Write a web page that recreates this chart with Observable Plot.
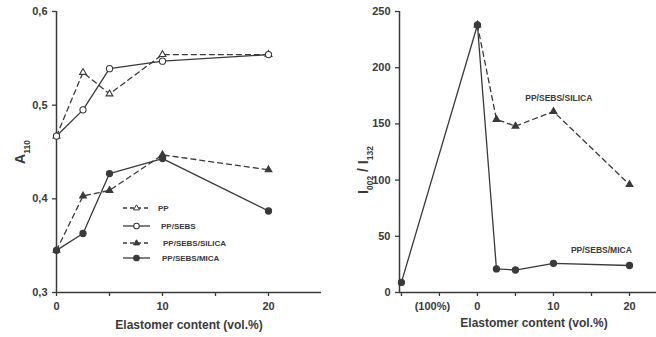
<!DOCTYPE html>
<html>
<head>
<meta charset="utf-8">
<script src="https://cdn.jsdelivr.net/npm/d3@7"></script>
<script src="https://cdn.jsdelivr.net/npm/@observablehq/plot@0.6"></script>
<style>
  html, body { margin: 0; padding: 0; background: #fff; }
  #wrap { display: flex; width: 656px; height: 337px; overflow: hidden; background: #fff; }
  svg text { font-family: "Liberation Sans", Arial, sans-serif; }
</style>
</head>
<body>
<div id="wrap"></div>
<script>
// ---------- data ----------
const seriesNames = ["PP", "PP/SEBS", "PP/SEBS/SILICA", "PP/SEBS/MICA"];
const xLeft = [0, 2.5, 5, 10, 20];
const a110PP = [0.467, 0.535, 0.512, 0.554, 0.554];
const a110PPSEBS = [0.467, 0.495, 0.539, 0.547, 0.554];
const a110Silica = [0.345, 0.403, 0.409, 0.447, 0.431];
const a110Mica = [0.345, 0.363, 0.427, 0.443, 0.387];
const yTicksLeft = [0.3, 0.4, 0.5, 0.6];
const xTicksLeft = [0, 5, 10, 15, 20];
const xLabelsLeft = ["0", "", "10", "", "20"];

const xRightMica = [-10, 0, 2.5, 5, 10, 20];
const ratioMica = [9, 238, 21, 20, 26, 24];
const xRightSilica = [0, 2.5, 5, 10, 20];
const ratioSilica = [238, 154, 148, 161, 96];
const yTicksRight = [0, 50, 100, 150, 200, 250];
const xTicksRight = [-10, -5, 0, 5, 10, 15, 20];
const xLabelsRight = ["", "(100%)", "0", "", "10", "", "20"];
const rightAnnotations = ["PP/SEBS/SILICA", "PP/SEBS/MICA"];
const rightAnnotationX = [10.7, 16.3];
const rightAnnotationY = [173, 38];
const xTitle = "Elastomer content (vol.%)";

// ---------- styles ----------
const ink = "#3a3a3a";
const styleOf = {
  "PP": {dash: "5,4", symbol: "triangle", fill: "white"},
  "PP/SEBS": {dash: null, symbol: "circle", fill: "white"},
  "PP/SEBS/SILICA": {dash: "5,4", symbol: "triangle", fill: ink},
  "PP/SEBS/MICA": {dash: null, symbol: "circle", fill: ink}
};

const leftValues = [a110PP, a110PPSEBS, a110Silica, a110Mica];
const leftRows = seriesNames.flatMap((s, i) => xLeft.map((x, j) => ({series: s, x, y: leftValues[i][j]})));

function seriesMarks(rows, names) {
  const marks = [];
  for (const s of names) {
    const st = styleOf[s];
    const data = rows.filter(d => d.series === s);
    marks.push(Plot.line(data, {x: "x", y: "y", stroke: ink, strokeWidth: 1.3, strokeDasharray: st.dash}));
  }
  for (const s of names) {
    const st = styleOf[s];
    const data = rows.filter(d => d.series === s);
    marks.push(Plot.dot(data, {x: "x", y: "y", symbol: st.symbol, r: st.symbol === "triangle" ? 2.5 : 3.1,
      fill: st.fill, stroke: ink, strokeWidth: 1.1}));
  }
  return marks;
}

const baseStyle = {fontFamily: "Liberation Sans, Arial, sans-serif", fontSize: "11px", fontWeight: "bold", color: ink, background: "white", overflow: "visible"};

// ---------- left chart ----------
const left = Plot.plot({
  width: 330, height: 337,
  marginLeft: 56, marginRight: 9, marginTop: 11, marginBottom: 45,
  x: {domain: [0, 25]},
  y: {domain: [0.3, 0.6]},
  style: baseStyle,
  marks: [
    Plot.ruleX([0], {stroke: ink, strokeWidth: 1.5}),
    Plot.ruleY([0.3], {stroke: ink, strokeWidth: 1.5}),
    Plot.axisY({ticks: yTicksLeft, tickFormat: d => d.toFixed(1).replace(".", ","), tickSize: 4, tickPadding: 5, label: null, stroke: ink, strokeWidth: 1.3}),
    Plot.axisX({ticks: xTicksLeft, tickFormat: (d, i) => xLabelsLeft[xTicksLeft.indexOf(d)], tickSize: 4, tickPadding: 6, label: null, stroke: ink, strokeWidth: 1.3}),
    Plot.text([xTitle], {frameAnchor: "bottom", dy: 36, fontSize: 12, fontWeight: "bold", fill: ink}),
    ...seriesMarks(leftRows, seriesNames)
  ]
});

// ---------- right chart ----------
const rightRows = [
  ...xRightSilica.map((x, j) => ({series: "PP/SEBS/SILICA", x, y: ratioSilica[j]})),
  ...xRightMica.map((x, j) => ({series: "PP/SEBS/MICA", x, y: ratioMica[j]}))
];
const right = Plot.plot({
  width: 326, height: 337,
  marginLeft: 69, marginRight: 0, marginTop: 11, marginBottom: 45,
  x: {domain: [-10.25, 23.55]},
  y: {domain: [0, 250]},
  style: baseStyle,
  marks: [
    Plot.ruleX([-10.25], {stroke: ink, strokeWidth: 1.5}),
    Plot.ruleY([0], {stroke: ink, strokeWidth: 1.5}),
    Plot.axisY({ticks: yTicksRight, tickSize: 4, tickPadding: 5, label: null, stroke: ink, strokeWidth: 1.3}),
    Plot.axisX({ticks: xTicksRight, tickFormat: d => { const l = xLabelsRight[xTicksRight.indexOf(d)]; return l === "(100%)" ? "" : l; }, tickSize: 4, tickPadding: 6, label: null, stroke: ink, strokeWidth: 1.3}),
    Plot.axisX([xTicksRight[xLabelsRight.indexOf("(100%)")]], {tickFormat: () => "(100%)", tickSize: 0, tickPadding: 10, dx: -7, label: null}),
    Plot.text([xTitle], {frameAnchor: "bottom", dy: 34, dx: 6, fontSize: 12, fontWeight: "bold", fill: ink}),
    ...seriesMarks(rightRows, ["PP/SEBS/SILICA", "PP/SEBS/MICA"]),
    Plot.text(rightAnnotations, {x: (d, i) => rightAnnotationX[i], y: (d, i) => rightAnnotationY[i], text: d => d,
      fontSize: 8.5, fontWeight: "bold", fill: ink})
  ]
});

document.getElementById("wrap").append(left, right);

// ---------- y titles with subscripts ----------
function yTitle(svg, x, y, parts) {
  const t = d3.select(svg).append("text")
    .attr("transform", `translate(${x},${y}) rotate(-90)`)
    .attr("text-anchor", "middle")
    .attr("fill", ink)
    .style("font-weight", "bold")
    .style("font-size", "14px");
  for (const [txt, sub] of parts) {
    const sp = t.append("tspan").text(txt);
    if (sub) sp.attr("baseline-shift", "sub").style("font-size", "8.5px");
    else sp.attr("baseline-shift", "0");
  }
}
yTitle(left, 25, 152, [["A", false], ["110", true]]);
yTitle(right, 38, 170, [["I", false], ["002", true], [" / I", false], ["132", true]]);

// ---------- legend (left panel) ----------
const lg = d3.select(left).append("g").attr("text-anchor", "start");
seriesNames.forEach((s, i) => {
  const st = styleOf[s];
  const y = [208, 226, 243, 258][i];
  const x0 = 123, x1 = 150, xm = 136.5;
  lg.append("line").attr("x1", x0).attr("x2", x1).attr("y1", y).attr("y2", y)
    .attr("stroke", ink).attr("stroke-width", 1.3).attr("stroke-dasharray", st.dash ? "4,3" : null);
  if (st.symbol === "circle") {
    lg.append("circle").attr("cx", xm).attr("cy", y).attr("r", 2.8).attr("fill", st.fill).attr("stroke", ink).attr("stroke-width", 1.1);
  } else {
    const r = 3.2;
    lg.append("path").attr("d", `M${xm},${y - r}L${xm + r * 0.95},${y + r * 0.6}L${xm - r * 0.95},${y + r * 0.6}Z`)
      .attr("fill", st.fill).attr("stroke", ink).attr("stroke-width", 1.0);
  }
  lg.append("text").attr("x", [158, 161, 163, 162][i]).attr("y", y).attr("dy", "0.35em")
    .attr("text-anchor", "start")
    .attr("fill", ink).style("font-size", "8px").style("font-weight", "bold")
    .text(s);
});
</script>
</body>
</html>
